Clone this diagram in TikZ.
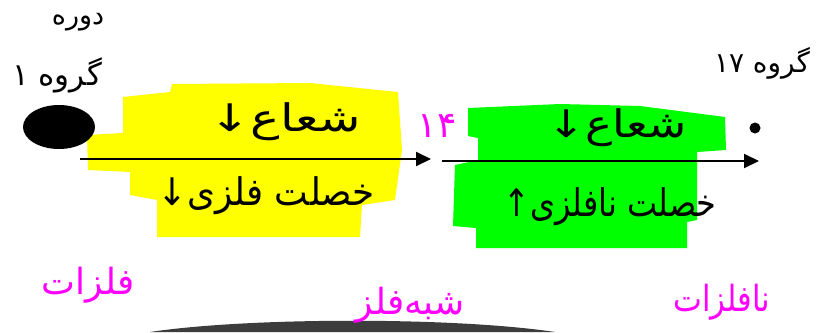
\documentclass[tikz,border=0pt]{standalone}
\usepackage{fontspec}
\usetikzlibrary{arrows.meta}
\TeXXeTstate=1
\newfontfamily\fa[Script=Arabic]{DejaVu Sans}
\definecolor{hlyellow}{HTML}{FFFF00}
\definecolor{hlgreen}{HTML}{00FF00}
\definecolor{pen}{HTML}{FF00FF}
\definecolor{dome}{HTML}{3C3C3C}
\tikzset{
  txt/.style={inner sep=0pt, font=\fa\fontsize{38}{42}\selectfont},
  head/.style={inner sep=0pt, font=\fa\fontsize{28}{32}\selectfont},
  pink/.style={inner sep=0pt, text=pen, font=\fa\fontsize{36}{40}\selectfont},
  axis/.style={line width=2pt, -{Triangle[length=15pt,width=14pt]}},
}
\begin{document}
\begin{tikzpicture}[x=1pt,y=-1pt]
\useasboundingbox (0,0) rectangle (819,332);
\fill[white] (0,0) rectangle (819,332);

% highlighter patches
\fill[hlyellow] (123,97) -- (170,92) -- (172,84) -- (310,83) -- (398,92) -- (402,150)
  -- (395,200) -- (362,205) -- (360,237) -- (157,237) -- (157,200) -- (130,195)
  -- (130,172) -- (88,170) -- (87,135) -- (123,133) -- cycle;
\fill[hlgreen] (468,108) -- (560,104) -- (640,106) -- (725,117) -- (726,150) -- (697,152)
  -- (697,220) -- (687,222) -- (687,248) -- (476,248) -- (476,228) -- (453,226)
  -- (455,165) -- (478,160) -- (478,138) -- (468,136) -- cycle;

% dome at the bottom edge
\fill[dome] (150,332) .. controls (250,317) and (455,317) .. (555,332) -- cycle;

% labels at the left and right ends
\node[head, font=\fa\fontsize{27}{30}\selectfont] (dore) at (78,22) {\beginR دوره\endR};
\node[head, font=\fa\fontsize{31}{34}\selectfont] (g1) at (57,75) {\beginR گروه \beginL۱\endL\endR};
\fill[black] (59,127) ellipse [x radius=36, y radius=22];
\node[head] (g17) at (762,63) {\beginR گروه \beginL۱۷\endL\endR};
\fill[black] (755,128) circle [radius=5.5];

% axes
\coordinate (a1s) at (80,159);
\coordinate (a1e) at (431,159);
\coordinate (a2s) at (442,161);
\coordinate (a2e) at (759,161);
\draw[axis] (a1s) -- (a1e);
\draw[axis] (a2s) -- (a2e);

\node[pink] (n14) at (437,126) {\beginL۱۴\endL};

% trends
\node[txt, xscale=1.3] (r1) at (285,122) {\beginR شعاع↓\endR};
\node[txt, xscale=0.94] (m1) at (266,196) {\beginR خصلت فلزی↓\endR};
\node[txt, xscale=1.2] (r2) at (617,128) {\beginR شعاع↓\endR};
\node[txt, xscale=0.84] (m2) at (610,207) {\beginR خصلت نافلزی↑\endR};

% categories
\node[pink] (c1) at (88,285) {\beginR فلزات\endR};
\node[pink] (c2) at (410,305) {\beginR شبه‌فلز\endR};
\node[pink, xscale=0.85] (c3) at (722,302) {\beginR نافلزات\endR};
\end{tikzpicture}
\end{document}
